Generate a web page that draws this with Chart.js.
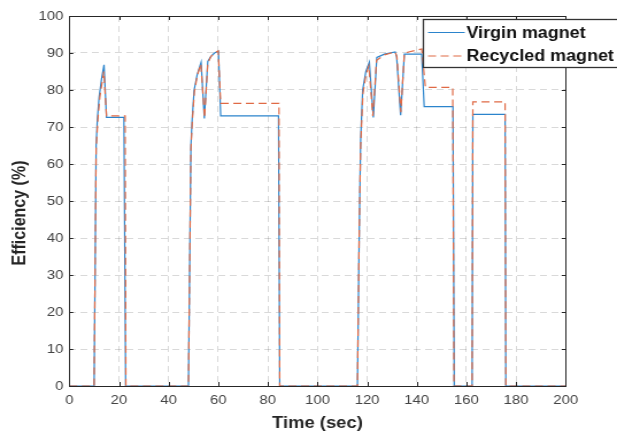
<!DOCTYPE html>
<html>
<head>
<meta charset="UTF-8">
<title>Efficiency</title>
<script src="https://cdn.jsdelivr.net/npm/chart.js@4.4.1/dist/chart.umd.min.js"></script>
<style>
    body { margin: 0; background: #fff; overflow: hidden; }
    #wrap { width: 537px; height: 434px; transform: scaleX(1.149); transform-origin: 0 0; }
</style>
</head>
<body>
<div id="wrap">
    <canvas id="myChart" width="537" height="434"></canvas>
</div>
<script>
    // values
    const virginTime = [0, 10, 10.8, 11.3, 12, 13, 14, 15, 22, 22.7,
        48, 49, 49.5, 50.3, 51.5, 53.1, 54.4, 55.8, 57, 58.5, 60.1, 61, 84.3, 84.8,
        116.1, 116.8, 117.4, 118.2, 119.5, 120.9, 122.5, 123.9, 127, 131.3, 131.9, 133.5, 135, 142, 143, 154.6, 155.1,
        162.3, 162.6, 175.6, 175.9, 200];
    const virginEff = [0, 0, 65, 72, 78, 83, 86.8, 72.6, 72.6, 0,
        0, 65, 72, 80, 84, 87.5, 72.3, 87.7, 89, 90, 90.5, 73, 73, 0,
        0, 40, 66.5, 80, 85, 87.5, 72.6, 88.8, 89.7, 90.3, 89, 73.2, 89.7, 89.7, 75.5, 75.5, 0,
        0, 73.4, 73.4, 0, 0];

    const recycledTime = [0, 10, 10.8, 11.5, 12.3, 13.2, 13.9, 15, 22.5, 22.8,
        48, 49, 49.6, 50.4, 51.6, 53, 54.5, 55.8, 57, 58.5, 60, 61, 84.5, 84.8,
        116.1, 116.8, 117.4, 118.3, 119.5, 120.7, 122.3, 123.8, 127, 131.3, 132, 133.6, 135, 142, 143.5, 154.5, 155,
        162.3, 162.6, 175.6, 175.9, 200];
    const recycledEff = [0, 0, 64, 72, 78, 82, 85, 73, 73, 0,
        0, 64, 72, 79.5, 84, 87, 72.5, 87.2, 89, 90, 90.6, 76.4, 76.4, 0,
        0, 40, 65, 79, 84, 86.5, 73, 88, 89.5, 90.3, 89, 74, 90, 91.1, 80.7, 80.7, 0,
        0, 76.8, 76.8, 0, 0];

    const seriesNames = ['Virgin magnet', 'Recycled magnet'];
    const xTitle = 'Time (sec)';
    const yTitle = 'Efficiency (%)';

    const blue = '#2b84cc';
    const red = '#e06a45';
    const fontFamily = "'Liberation Sans', Arial, sans-serif";

    function toPoints(xs, ys) {
        return xs.map(function (x, i) { return {x: x, y: ys[i]}; });
    }

    // box, inward ticks, axis titles and legend, matlab style
    const matlabFrame = {
        id: 'matlabFrame',
        afterDraw(chart) {
            const ctx = chart.ctx;
            const a = chart.chartArea;
            const xs = chart.scales.x;
            const ys = chart.scales.y;
            ctx.save();
            ctx.strokeStyle = '#262626';
            ctx.lineWidth = 1;
            ctx.setLineDash([]);
            ctx.beginPath();
            xs.ticks.forEach(function (t) {
                const px = Math.round(xs.getPixelForValue(t.value)) + 0.5;
                ctx.moveTo(px, a.bottom); ctx.lineTo(px, a.bottom - 4);
                ctx.moveTo(px, a.top); ctx.lineTo(px, a.top + 4);
            });
            ys.ticks.forEach(function (t) {
                const py = Math.round(ys.getPixelForValue(t.value)) + 0.5;
                ctx.moveTo(a.left, py); ctx.lineTo(a.left + 3.5, py);
                ctx.moveTo(a.right, py); ctx.lineTo(a.right - 3.5, py);
            });
            ctx.stroke();
            ctx.strokeRect(Math.round(a.left) + 0.5, Math.round(a.top) + 0.5,
                Math.round(a.right - a.left), Math.round(a.bottom - a.top));

            // axis titles
            ctx.fillStyle = '#262626';
            ctx.font = 'bold 16px ' + fontFamily;
            ctx.textAlign = 'center';
            ctx.textBaseline = 'middle';
            ctx.fillText(xTitle, (a.left + a.right) / 2, 424);
            ctx.save();
            ctx.translate(18, 213);
            ctx.rotate(-Math.PI / 2);
            ctx.fillText(yTitle, 0, 0);
            ctx.restore();

            // legend
            ctx.fillStyle = '#fff';
            ctx.fillRect(368.5, 19.5, 200, 48);
            ctx.strokeStyle = '#333';
            ctx.lineWidth = 1.3;
            ctx.strokeRect(368.5, 19.5, 200, 48);
            const rows = [[blue, []], [red, [7, 4]]];
            const rowY = [32.5, 56];
            ctx.font = 'bold 15.6px ' + fontFamily;
            ctx.textAlign = 'left';
            rows.forEach(function (r, i) {
                ctx.strokeStyle = r[0];
                ctx.lineWidth = 1.2;
                ctx.setLineDash(r[1]);
                ctx.beginPath();
                ctx.moveTo(372.5, rowY[i]);
                ctx.lineTo(404.5, rowY[i]);
                ctx.stroke();
                ctx.setLineDash([]);
                ctx.fillStyle = '#111';
                ctx.fillText(seriesNames[i], 406, rowY[i] + 1);
            });
            ctx.restore();
        }
    };

    const ctx = document.getElementById('myChart');
    const myChart = new Chart(ctx, {
        type: 'line',
        data: {
            datasets: [{
                label: seriesNames[0],
                data: toPoints(virginTime, virginEff),
                borderColor: blue,
                borderWidth: 1.2,
                pointRadius: 0,
                tension: 0,
                order: 1
            }, {
                label: seriesNames[1],
                data: toPoints(recycledTime, recycledEff),
                borderColor: red,
                borderWidth: 1.2,
                borderDash: [7, 4],
                pointRadius: 0,
                tension: 0,
                order: 0
            }]
        },
        options: {
            responsive: false,
            animation: false,
            devicePixelRatio: 1,
            layout: {
                padding: {top: 16, right: 44.7, left: 0, bottom: 0}
            },
            plugins: {
                legend: {display: false},
                tooltip: {enabled: false}
            },
            scales: {
                x: {
                    type: 'linear',
                    min: 0,
                    max: 200,
                    ticks: {
                        stepSize: 20,
                        color: '#444',
                        font: {family: fontFamily, size: 13},
                        padding: 7,
                        maxRotation: 0
                    },
                    grid: {color: 'rgba(0,0,0,0.15)', tickLength: 0},
                    border: {display: false, dash: [6, 4]},
                    afterFit(s) { s.height = 48; }
                },
                y: {
                    min: 0,
                    max: 100,
                    ticks: {
                        stepSize: 10,
                        color: '#444',
                        font: {family: fontFamily, size: 13},
                        padding: 5
                    },
                    grid: {color: 'rgba(0,0,0,0.15)', tickLength: 0},
                    border: {display: false, dash: [6, 4]},
                    afterFit(s) { s.width = 60.3; }
                }
            }
        },
        plugins: [matlabFrame]
    });
</script>
</body>
</html>
